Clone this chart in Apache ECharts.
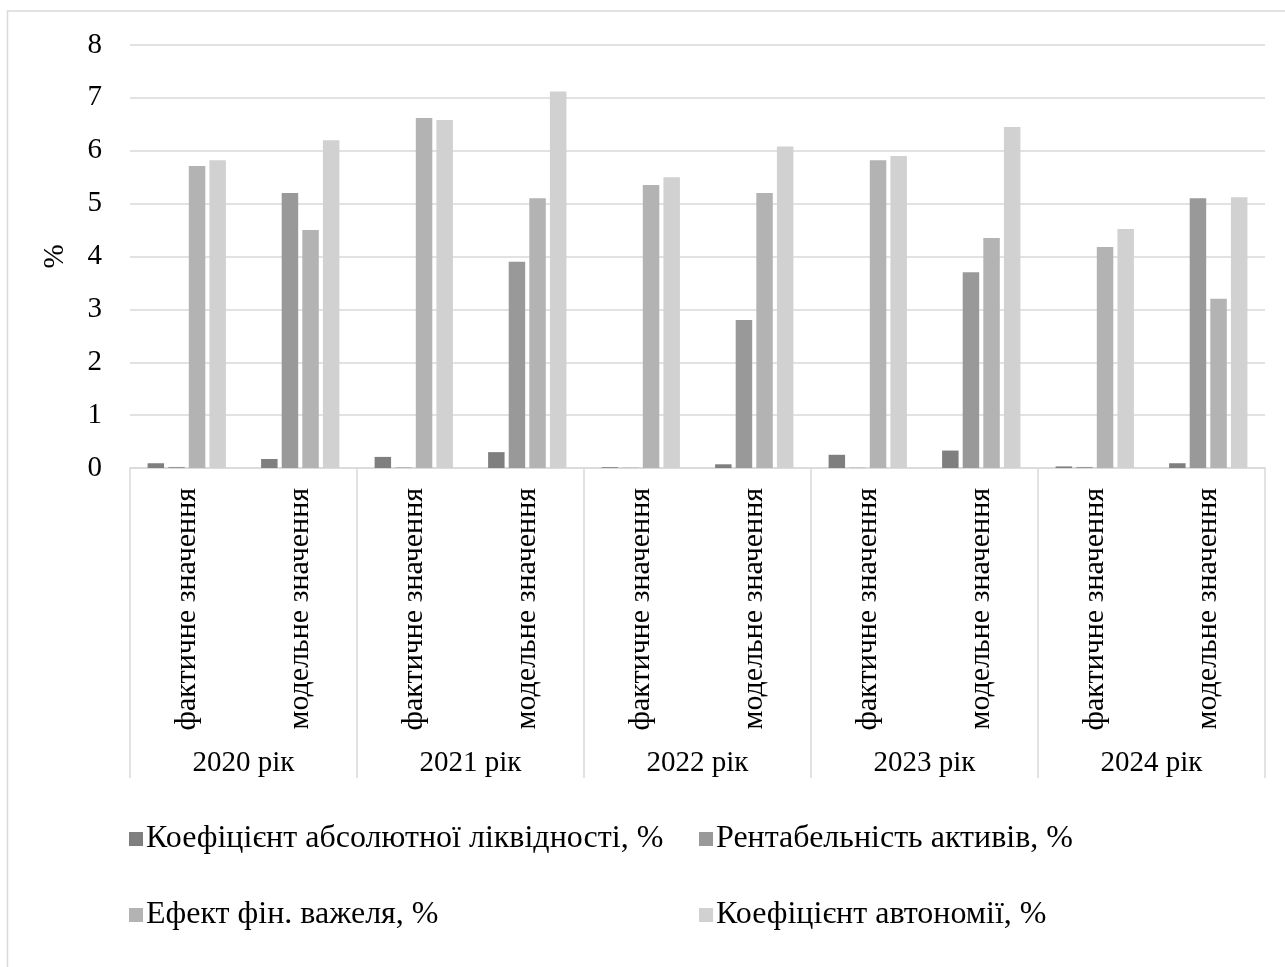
<!DOCTYPE html>
<html>
<head>
<meta charset="utf-8">
<style>
  html, body { margin: 0; padding: 0; background: #fff; }
  #chart { width: 1285px; height: 967px; }
</style>
<script src="https://cdn.jsdelivr.net/npm/echarts@6/dist/echarts.min.js"></script>
</head>
<body>
<div id="chart"></div>
<script>
  // категорії: два рівні
  const years = ['2020 рік', '2021 рік', '2022 рік', '2023 рік', '2024 рік'];
  const kinds = ['фактичне значення', 'модельне значення'];
  const categories = [];
  years.forEach(function () { kinds.forEach(function (k) { categories.push(k); }); });

  const seriesNames = [
    'Коефіцієнт абсолютної ліквідності, %',
    'Рентабельність активів, %',
    'Ефект фін. важеля, %',
    'Коефіцієнт автономії, %'
  ];
  const liquidity = [0.09, 0.17, 0.21, 0.3, 0.015, 0.07, 0.25, 0.33, 0.03, 0.09];
  const roa = [0.02, 5.2, 0.01, 3.9, 0.005, 2.8, 0.005, 3.7, 0.02, 5.1];
  const leverage = [5.71, 4.5, 6.62, 5.1, 5.35, 5.2, 5.82, 4.35, 4.18, 3.2];
  const autonomy = [5.82, 6.2, 6.58, 7.12, 5.5, 6.08, 5.9, 6.45, 4.52, 5.12];
  const yTicks = [0, 8, 1]; // min, max, interval

  const colors = ['#7f7f7f', '#999999', '#b3b3b3', '#d1d1d1'];
  const font = 'Liberation Serif';

  const chart = echarts.init(document.getElementById('chart'));

  const values = [liquidity, roa, leverage, autonomy];
  const series = values.map(function (v, i) {
    return {
      name: seriesNames[i],
      type: 'bar',
      xAxisIndex: 0,
      data: v,
      barGap: '25%',
      barCategoryGap: '31%',
      itemStyle: { color: colors[i] },
      animation: false
    };
  });

  const legendText = { fontFamily: font, fontSize: 32, color: '#000', padding: [0, 0, 0, -2] };

  chart.setOption({
    backgroundColor: '#fff',
    color: colors,
    textStyle: { fontFamily: font, color: '#000' },
    graphic: [{
      type: 'rect',
      shape: { x: 7.5, y: 11, width: 1300, height: 1000 },
      style: { fill: 'none', stroke: '#d9d9d9', lineWidth: 1.5 },
      silent: true
    }],
    grid: { left: 130, right: 20, top: 45, bottom: 499 },
    legend: [{
      data: [seriesNames[0], seriesNames[2]],
      left: 124, top: 818,
      orient: 'vertical',
      itemGap: 44,
      itemWidth: 14, itemHeight: 14,
      icon: 'rect',
      textStyle: legendText
    }, {
      data: [seriesNames[1], seriesNames[3]],
      left: 694, top: 818,
      orient: 'vertical',
      itemGap: 44,
      itemWidth: 14, itemHeight: 14,
      icon: 'rect',
      textStyle: legendText
    }],
    xAxis: [{
      type: 'category',
      data: categories,
      position: 'bottom',
      axisLine: { lineStyle: { color: '#d9d9d9', width: 1.5 } },
      axisTick: { show: false },
      axisLabel: {
        interval: 0, rotate: 90, margin: 20,
        fontFamily: font, fontSize: 30, color: '#000'
      }
    }, {
      type: 'category',
      data: years,
      position: 'bottom',
      axisLine: { show: false },
      axisTick: { show: true, interval: 0, length: 310, lineStyle: { color: '#d9d9d9', width: 1.5 } },
      axisLabel: {
        interval: 0, margin: 281,
        fontFamily: font, fontSize: 29, color: '#000'
      }
    }],
    yAxis: {
      type: 'value',
      min: yTicks[0], max: yTicks[1], interval: yTicks[2],
      name: '%',
      nameLocation: 'middle',
      nameRotate: 90,
      nameGap: 60,
      nameTextStyle: { fontFamily: font, fontSize: 29, color: '#000' },
      axisLine: { show: false },
      axisTick: { show: false },
      axisLabel: { margin: 28, fontFamily: font, fontSize: 29, color: '#000' },
      splitLine: { lineStyle: { color: '#d9d9d9', width: 1.5 } }
    },
    series: series
  });
</script>
</body>
</html>
